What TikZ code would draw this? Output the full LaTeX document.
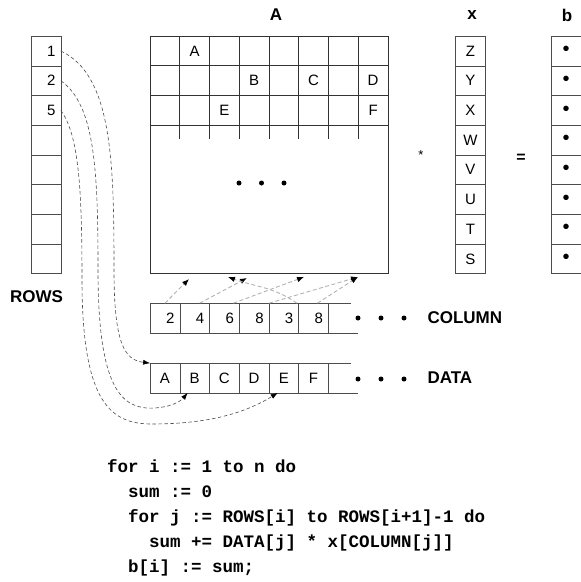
\documentclass[tikz,border=0pt]{standalone}
\usepackage{fontspec}
\setmainfont{Liberation Sans}
\setmonofont{Liberation Mono}
\usetikzlibrary{positioning,arrows.meta}

\begin{document}
\begin{tikzpicture}[x=1pt,y=-1pt,node distance=29.7pt,
                    entry/.style={font=\fontsize{15}{18}\selectfont},
                    cell/.style={draw=black!70,line width=0.7pt,minimum width=29.7pt,minimum height=29.7pt,inner sep=0pt,outer sep=0pt,entry},
                    num cell/.style={cell,text width=19pt,align=right},
                    b cell/.style={cell,font=\fontsize{20}{20}\selectfont},
                    head/.style={font=\bfseries\fontsize{17}{20}\selectfont},
                    blob/.style={circle,fill=black,inner sep=0pt,minimum size=5pt},
                    codeline/.style={anchor=base west,inner sep=0pt,font=\ttfamily\bfseries\fontsize{17.5}{20}\selectfont},
                    row link/.style={black!70,line width=0.6pt,dash pattern=on 3.5pt off 2.5pt,-{Latex[length=7pt,width=5pt,black]}},
                    col link/.style={gray!60,line width=0.9pt,dash pattern=on 4pt off 2.5pt,-{Latex[length=7pt,width=5.5pt,black]}}]

          \useasboundingbox (0,0) rectangle (581,582);

          % the sparse matrix
          \draw[black!80,line width=0.7pt] (150,36) rectangle (388,273);
          \foreach \i in {1,...,7}
            \draw[black!80,line width=0.7pt] (150+\i*29.75,36) -- (150+\i*29.75,139);
          \foreach \j in {1,2,3}
            \draw[black!80,line width=0.7pt] (150,36+\j*29.75) -- (388,36+\j*29.75);

          \node[head] (nameA) at (276,15) {A};
          \node[entry] at (194.6,50.9) {A};
          \node[entry] at (254.1,80.6) {B};
          \node[entry] at (313.6,80.6) {C};
          \node[entry] at (373.1,80.6) {D};
          \node[entry] at (224.4,110.4) {E};
          \node[entry] at (373.1,110.4) {F};
          \node[blob] at (239,183) {};
          \node[blob] at (261.5,183) {};
          \node[blob] at (284,183) {};

          % ROWS
          \node[num cell] (r1) at (46,51) {1};
          \node[num cell] (r2) [below of=r1] {2};
          \node[num cell] (r3) [below of=r2] {5};
          \node[num cell] (r4) [below of=r3] {};
          \node[num cell] (r5) [below of=r4] {};
          \node[num cell] (r6) [below of=r5] {};
          \node[num cell] (r7) [below of=r6] {};
          \node[num cell] (r8) [below of=r7] {};
          \node[head] (nameR) at (36.5,297) {ROWS};

          % x and b
          \node[cell] (x1) at (470.5,51) {Z};
          \node[cell] (x2) [below of=x1] {Y};
          \node[cell] (x3) [below of=x2] {X};
          \node[cell] (x4) [below of=x3] {W};
          \node[cell] (x5) [below of=x4] {V};
          \node[cell] (x6) [below of=x5] {U};
          \node[cell] (x7) [below of=x6] {T};
          \node[cell] (x8) [below of=x7] {S};
          \node[head] (namex) at (472,15) {x};

          \node[b cell] (b1) at (566,51) {\textbullet};
          \node[b cell] (b2) [below of=b1] {\textbullet};
          \node[b cell] (b3) [below of=b2] {\textbullet};
          \node[b cell] (b4) [below of=b3] {\textbullet};
          \node[b cell] (b5) [below of=b4] {\textbullet};
          \node[b cell] (b6) [below of=b5] {\textbullet};
          \node[b cell] (b7) [below of=b6] {\textbullet};
          \node[b cell] (b8) [below of=b7] {\textbullet};
          \node[head] (nameb) at (567,15) {b};

          \node[font=\fontsize{13}{15}\selectfont] (times) at (421,155) {*};
          \node[font=\bfseries\fontsize{16}{18}\selectfont] (equals) at (521,158) {=};

          % COLUMN
          \node[num cell] (c1) at (165,318) {2};
          \node[num cell] (c2) [right of=c1] {4};
          \node[num cell] (c3) [right of=c2] {6};
          \node[num cell] (c4) [right of=c3] {8};
          \node[num cell] (c5) [right of=c4] {3};
          \node[num cell] (c6) [right of=c5] {8};
          \draw[black!70,line width=0.7pt] (c6.north east) -- ++(23,0);
          \draw[black!70,line width=0.7pt] (c6.south east) -- ++(30,0);
          \node[blob] at (358,318) {};
          \node[blob] at (381,318) {};
          \node[blob] at (404,318) {};
          \node[head,anchor=west] (nameC) at (424,318) {COLUMN};

          % DATA
          \node[cell] (d1) at (165,378) {A};
          \node[cell] (d2) [right of=d1] {B};
          \node[cell] (d3) [right of=d2] {C};
          \node[cell] (d4) [right of=d3] {D};
          \node[cell] (d5) [right of=d4] {E};
          \node[cell] (d6) [right of=d5] {F};
          \draw[black!70,line width=0.7pt] (d6.north east) -- ++(23,0);
          \draw[black!70,line width=0.7pt] (d6.south east) -- ++(30,0);
          \node[blob] at (358,379) {};
          \node[blob] at (381,379) {};
          \node[blob] at (404,379) {};
          \node[head,anchor=west] (nameD) at (424,378) {DATA};

          % column indices into A
          \coordinate (m2) at (189,279);
          \coordinate (m3) at (228,277);
          \coordinate (m4) at (247,278);
          \coordinate (m6) at (304,277);
          \coordinate (m8) at (358,277);

          \draw[col link] (c1.north) -- (m2);
          \draw[col link] ([xshift=5pt]c2.north) -- (m4);
          \draw[col link] ([xshift=9pt]c3.north) -- (m6);
          \draw[col link] ([xshift=15pt]c4.north) -- (m8);
          \draw[col link] ([xshift=13pt]c5.north) to[out=145,in=-20] (m3);
          \draw[col link] ([xshift=4pt]c6.north) -- (m8);

          % row starts into DATA
          \draw[row link] (r1.east) .. controls (112,75) and (114,160) .. (114,270)
                          .. controls (114,345) and (125,360) .. (d1.north west);
          \draw[row link] (r2.east) .. controls (95,105) and (98,170) .. (98,270)
                          .. controls (98,390) and (122,410) .. (155,408)
                          .. controls (170,407) and (180,402) .. ([xshift=-7pt]d2.south);
          \draw[row link] (r3.east) .. controls (79,135) and (82,190) .. (82,280)
                          .. controls (82,405) and (112,424) .. (152,424)
                          .. controls (215,424) and (250,410) .. ([xshift=-6pt]d5.south);

          % the loop
          \node[codeline] (code1) at (107,472) {for i := 1 to n do};
          \node[codeline] (code2) at (128,497) {sum := 0};
          \node[codeline] (code3) at (128,522) {for j := ROWS[i] to ROWS[i+1]-1 do};
          \node[codeline] (code4) at (149,547) {sum += DATA[j] * x[COLUMN[j]]};
          \node[codeline] (code5) at (128,572) {b[i] := sum;};

        \end{tikzpicture}
\end{document}
